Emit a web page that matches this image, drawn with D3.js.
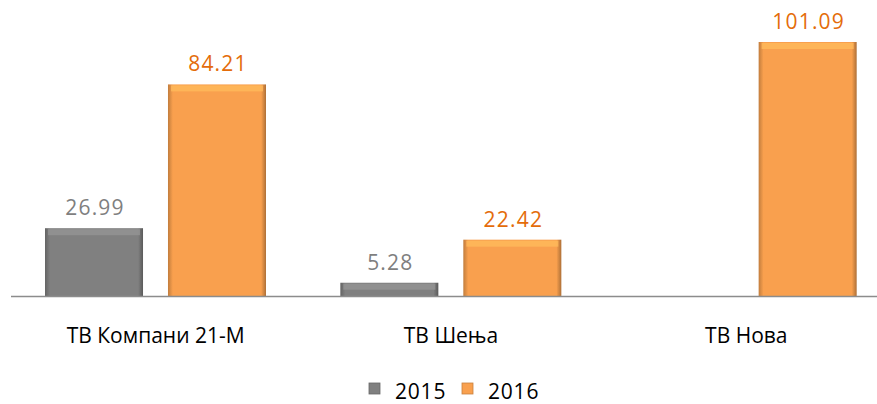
<!DOCTYPE html>
<html>
<head>
<meta charset="utf-8">
<script src="https://cdn.jsdelivr.net/npm/d3@7/dist/d3.min.js"></script>
<style>
  body { margin: 0; background: #fff; }
  svg { font-family: "Open Sans", sans-serif; }
</style>
</head>
<body>
<svg width="877" height="404"></svg>
<script>
// data
let categories = ["ТВ Компани 21-М", "ТВ Шења", "ТВ Нова"];
let seriesNames = ["2015", "2016"];
let values2015 = [26.99, 5.28, null];
let values2016 = [84.21, 22.42, 101.09];

let colors = { "2015": "#808080", "2016": "#f9a04e" };
let labelColors = { "2015": "#7f7f7f", "2016": "#e46c0a" };

let svg = d3.select("svg"),
  baseY = 296,
  topY = 42;

let x0 = d3.scaleBand().domain(categories).range([8, 894]);
let x1 = d3.scaleBand().domain(seriesNames).range([37, 258]).paddingInner(0.203);
let y = d3.scaleLinear().domain([0, 101.09]).range([baseY, topY]);

// gradients for a bevelled look
let defs = svg.append("defs");
function bevel(id, base) {
  let c = d3.color(base);
  let g = defs.append("linearGradient").attr("id", id).attr("x1", 0).attr("x2", 1).attr("y1", 0).attr("y2", 0);
  g.append("stop").attr("offset", "0%").attr("stop-color", c.darker(0.7));
  g.append("stop").attr("offset", "5%").attr("stop-color", base);
  g.append("stop").attr("offset", "95%").attr("stop-color", base);
  g.append("stop").attr("offset", "100%").attr("stop-color", c.darker(1));
}
bevel("g2015", colors["2015"]);
bevel("g2016", colors["2016"]);

let data = categories.map(function (c, i) {
  return { cat: c, vals: [
    { key: "2015", v: values2015[i] },
    { key: "2016", v: values2016[i] }
  ] };
});

let groups = svg.append("g").selectAll("g")
  .data(data)
  .enter().append("g")
  .attr("transform", function (d) { return "translate(" + x0(d.cat) + ",0)"; });

let bars = groups.selectAll("g.bar")
  .data(function (d) { return d.vals.filter(function (e) { return e.v != null; }); })
  .enter().append("g").attr("class", "bar");

bars.append("rect")
  .attr("x", function (d) { return x1(d.key); })
  .attr("y", function (d) { return y(d.v); })
  .attr("width", x1.bandwidth())
  .attr("height", function (d) { return baseY - y(d.v); })
  .attr("fill", function (d) { return "url(#g" + d.key + ")"; });

// top highlight strip
bars.append("rect")
  .attr("x", function (d) { return x1(d.key) + 3; })
  .attr("y", function (d) { return y(d.v) + 1; })
  .attr("width", x1.bandwidth() - 6)
  .attr("height", function (d) { return Math.min(6, baseY - y(d.v) - 2); })
  .attr("fill", function (d) { return d3.color(colors[d.key]).brighter(0.45); })
  .attr("opacity", 0.75);

// value labels
bars.append("text")
  .attr("x", function (d) { return x1(d.key) + x1.bandwidth() / 2 + 1; })
  .attr("y", function (d) { return y(d.v) - 13; })
  .attr("text-anchor", "middle")
  .attr("font-size", 21)
  .attr("letter-spacing", 1.2)
  .attr("fill", function (d) { return labelColors[d.key]; })
  .text(function (d) { return d3.format(".2f")(d.v); });

// baseline
svg.append("line")
  .attr("x1", 11).attr("x2", 877)
  .attr("y1", baseY + 0.5).attr("y2", baseY + 0.5)
  .attr("stroke", "#8c8c8c").attr("stroke-width", 1.5);

// category labels
svg.append("g").selectAll("text")
  .data(categories)
  .enter().append("text")
  .attr("x", function (d) { return x0(d) + x0.bandwidth() / 2; })
  .attr("y", 343)
  .attr("text-anchor", "middle")
  .attr("font-size", 21)
  .attr("fill", "#000")
  .text(function (d) { return d; });

// legend
let legend = svg.append("g");
let legendX = [369, 462];
seriesNames.forEach(function (s, i) {
  let lg = legend.append("g").attr("transform", "translate(" + legendX[i] + ",383)");
  lg.append("rect").attr("width", 11).attr("height", 11).attr("fill", colors[s])
    .attr("stroke", d3.color(colors[s]).darker(0.6)).attr("stroke-width", 0.8);
  lg.append("text").attr("x", 26).attr("y", 16).attr("font-size", 21)
    .attr("letter-spacing", 0.8).attr("fill", "#000").text(s);
});
</script>
</body>
</html>
